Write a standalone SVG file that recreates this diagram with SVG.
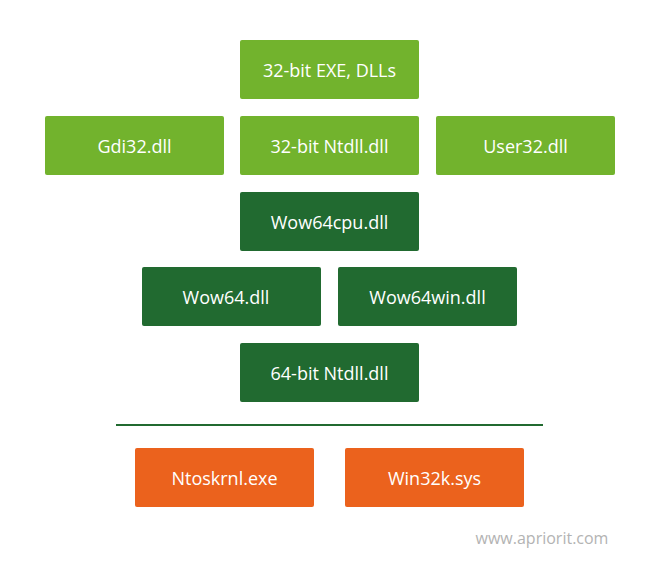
<svg xmlns="http://www.w3.org/2000/svg" width="659" height="567" viewBox="0 0 659 567">
<style>
.b rect{rx:2;ry:2}
.l rect{fill:#72b32d}
.d rect{fill:#216a30}
.o rect{fill:#eb621d}
text{font-family:"Open Sans","Noto Sans",sans-serif;font-size:18px;fill:#fff;text-anchor:middle;dominant-baseline:central}
</style>
<rect width="659" height="567" fill="#fff"/>
<g id="n1" class="b l"><rect x="240" y="40" width="179" height="59"/><text x="329.5" y="69.5">32-bit EXE, DLLs</text></g>
<g id="n2" class="b l"><rect x="45" y="116" width="179" height="59"/><text x="134.5" y="145.5">Gdi32.dll</text></g>
<g id="n3" class="b l"><rect x="240" y="116" width="179" height="59"/><text x="329.5" y="145.5">32-bit Ntdll.dll</text></g>
<g id="n4" class="b l"><rect x="436" y="116" width="179" height="59"/><text x="525.5" y="145.5">User32.dll</text></g>
<g id="n5" class="b d"><rect x="240" y="192" width="179" height="59"/><text x="329.5" y="221.5">Wow64cpu.dll</text></g>
<g id="n6" class="b d"><rect x="142" y="267" width="179" height="59"/><text x="226" y="296.5">Wow64.dll</text></g>
<g id="n7" class="b d"><rect x="338" y="267" width="179" height="59"/><text x="427.5" y="296.5">Wow64win.dll</text></g>
<g id="n8" class="b d"><rect x="240" y="343" width="179" height="59"/><text x="329.5" y="372.5">64-bit Ntdll.dll</text></g>
<g id="connectors"><line x1="116" y1="425" x2="543" y2="425" stroke="#216a30" stroke-width="2"/></g>
<g id="n9" class="b o"><rect x="135" y="448" width="179" height="59"/><text x="224.5" y="477.5">Ntoskrnl.exe</text></g>
<g id="n10" class="b o"><rect x="345" y="448" width="179" height="59"/><text x="434.5" y="477.5">Win32k.sys</text></g>
<text x="542" y="538" style="fill:#b3b3b3;font-size:16px">www.apriorit.com</text>
</svg>
